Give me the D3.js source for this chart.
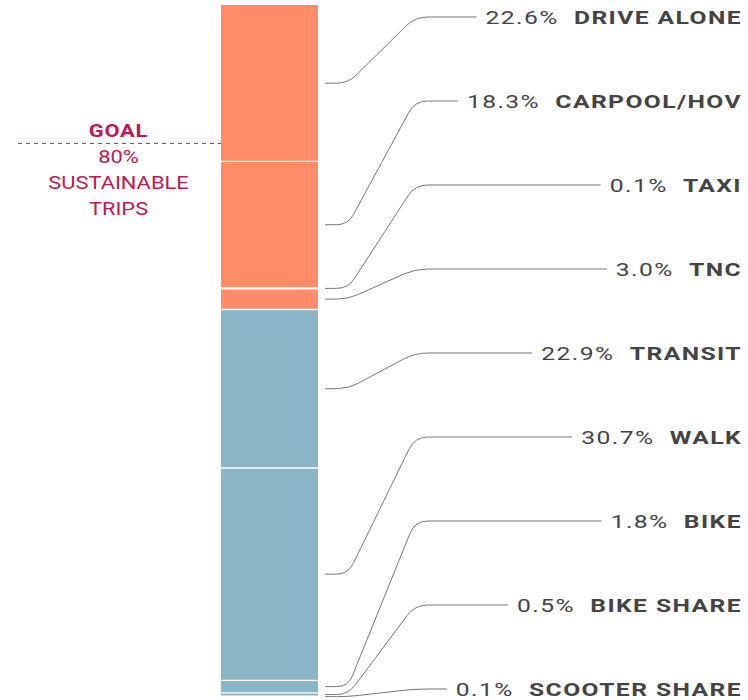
<!DOCTYPE html>
<html>
<head>
<meta charset="utf-8">
<script src="https://cdn.jsdelivr.net/npm/d3@7"></script>
<style>
  html, body { margin: 0; padding: 0; background: #fff; }
  svg { display: block; }
  text { font-family: Roboto, "Liberation Sans", sans-serif; }
</style>
</head>
<body>
<svg id="chart" width="748" height="700"></svg>
<script>
// ---- data ----
const categories = ["DRIVE ALONE", "CARPOOL/HOV", "TAXI", "TNC", "TRANSIT", "WALK", "BIKE", "BIKE SHARE", "SCOOTER SHARE"];
const values = [22.6, 18.3, 0.1, 3.0, 22.9, 30.7, 1.8, 0.5, 0.1];
const groups = ["car", "car", "car", "car", "sustainable", "sustainable", "sustainable", "sustainable", "sustainable"];
const goalValue = 80;
const goalLines = ["GOAL", "80%", "SUSTAINABLE", "TRIPS"];

// ---- layout ----
const barX0 = 221, barX1 = 318;
const svg = d3.select("#chart");
const SX = 1.41; // horizontal stretch of the wide label face

const y = d3.scaleLinear().domain([0, 100]).range([5, 697]);
const labelY = d3.scalePoint().domain(categories).range([18, 690]);
const color = d3.scaleOrdinal().domain(["car", "sustainable"]).range(["#ff8b69", "#8ab5c6"]);

let cum = 0;
const rows = categories.map((c, i) => {
  const r = { cat: c, value: values[i], group: groups[i], start: cum, end: cum + values[i] };
  cum += values[i];
  return r;
});

// bars
svg.append("g").selectAll("rect").data(rows).join("rect")
  .attr("x", barX0)
  .attr("width", barX1 - barX0)
  .attr("y", d => y(d.start))
  .attr("height", d => y(d.end) - y(d.start))
  .attr("fill", d => color(d.group));

// divider lines
svg.append("g").selectAll("line").data(rows.slice(1)).join("line")
  .attr("x1", barX0).attr("x2", barX1)
  .attr("y1", d => y(d.start)).attr("y2", d => y(d.start))
  .attr("stroke", "#fff").attr("stroke-width", 1.4);

// labels
const labelRight = 742;
const labelG = svg.append("g").selectAll("g").data(rows).join("g")
  .attr("transform", d => `translate(${labelRight},${labelY(d.cat)}) scale(${SX},1)`);
const labels = labelG.append("text")
  .attr("x", 0)
  .attr("y", 0)
  .attr("dy", "0.36em")
  .attr("text-anchor", "end")
  .style("font-size", "17.5px")
  .style("letter-spacing", "1px")
  .style("fill", "#444");
labels.append("tspan")
  .style("font-weight", 400)
  .text(d => d3.format(".1f")(d.value) + "% ");
labels.append("tspan")
  .attr("dx", 5.5)
  .style("font-weight", 700)
  .text(d => d.cat);

// leader lines with rounded corners
function rounded(pts, r) {
  let p = `M${pts[0][0]},${pts[0][1]}`;
  for (let i = 1; i < pts.length - 1; i++) {
    const [x0, y0] = pts[i - 1], [x1, y1] = pts[i], [x2, y2] = pts[i + 1];
    const l1 = Math.hypot(x1 - x0, y1 - y0), l2 = Math.hypot(x2 - x1, y2 - y1);
    const rr = Math.min(r, l1 / 2, l2 / 2);
    const ax = x1 - (x1 - x0) / l1 * rr, ay = y1 - (y1 - y0) / l1 * rr;
    const bx = x1 + (x2 - x1) / l2 * rr, by = y1 + (y2 - y1) / l2 * rr;
    p += `L${ax},${ay}Q${x1},${y1} ${bx},${by}`;
  }
  const last = pts[pts.length - 1];
  p += `L${last[0]},${last[1]}`;
  return p;
}

const lineG = svg.append("g");
labels.each(function(d) {
  const bb = this.getBBox();
  const textLeft = labelRight + bb.x * SX;
  const ym = (y(d.start) + y(d.end)) / 2;
  const yl = labelY(d.cat) - 1;
  const pts = [[325, ym], [348, ym], [415, yl], [textLeft - 9, yl]];
  lineG.append("path")
    .attr("d", rounded(pts, 13))
    .attr("fill", "none")
    .attr("stroke", "#777")
    .attr("stroke-width", 1);
});

// goal
const gy = y(100 - goalValue);
svg.append("line")
  .attr("x1", 18).attr("x2", barX0)
  .attr("y1", gy).attr("y2", gy)
  .attr("stroke", "#c2184f").attr("stroke-width", 1)
  .attr("stroke-dasharray", "4,4");
const goalY = [gy - 13, gy + 13, gy + 39, gy + 65];
svg.append("g").selectAll("g").data(goalLines).join("g")
  .attr("transform", (d, i) => `translate(118.5,${goalY[i]}) scale(1.25,1)`)
  .append("text")
  .attr("dy", "0.36em")
  .attr("text-anchor", "middle")
  .style("font-size", "17.5px")
  .style("letter-spacing", (d, i) => i === 0 ? "0.6px" : "0px")
  .style("font-weight", (d, i) => i === 0 ? 700 : 400)
  .style("fill", "#c2184f")
  .text(d => d);
</script>
</body>
</html>
